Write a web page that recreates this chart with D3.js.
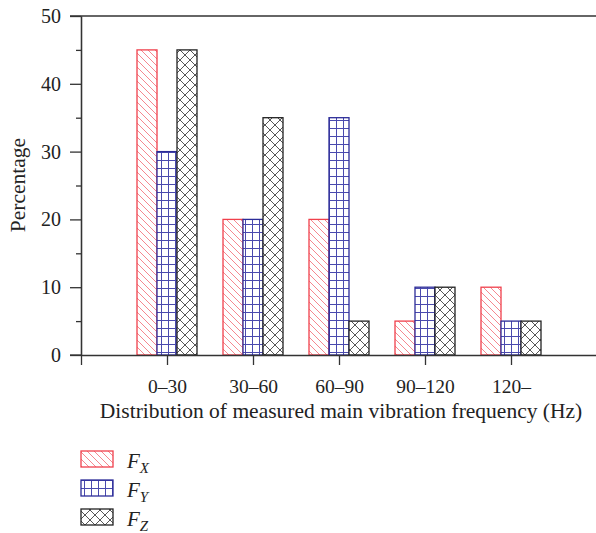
<!DOCTYPE html>
<html>
<head>
    <script type="text/javascript" src="https://d3js.org/d3.v7.min.js"></script>
    <style>
        body { margin: 0; background: #fff; }
        svg { display: block; }
        text { font-family: "Liberation Serif", "DejaVu Serif", serif; fill: #222; }
    </style>
</head>
<body>
    <svg></svg>
    <script>
        // data
        const categories = ["0\u201330", "30\u201360", "60\u201390", "90\u2013120", "120\u2013"];
        const seriesNames = ["X", "Y", "Z"];
        const fx = [45, 20, 20, 5, 10];
        const fy = [30, 20, 35, 10, 5];
        const fz = [45, 35, 5, 10, 5];
        const yTicks = [0, 10, 20, 30, 40, 50];

        const svg = d3.select("svg").attr("width", 596).attr("height", 533);
        const defs = svg.append("defs");

        // hatch patterns
        const pX = defs.append("pattern").attr("id", "hx").attr("patternUnits", "userSpaceOnUse")
            .attr("width", 7).attr("height", 7);
        pX.append("rect").attr("width", 7).attr("height", 7).attr("fill", "#fff");
        pX.append("path").attr("d", "M-1,-1 L8,8 M-1,6 L1,8 M6,-1 L8,1")
            .attr("stroke", "#f26a72").attr("stroke-width", 0.8);

        const pY = defs.append("pattern").attr("id", "hy").attr("patternUnits", "userSpaceOnUse")
            .attr("width", 7).attr("height", 8);
        pY.append("rect").attr("width", 7).attr("height", 8).attr("fill", "#fff");
        pY.append("path").attr("d", "M0.5,0 L0.5,8 M0,0.5 L7,0.5")
            .attr("stroke", "#4a4aae").attr("stroke-width", 1);

        const pZ = defs.append("pattern").attr("id", "hz").attr("patternUnits", "userSpaceOnUse")
            .attr("width", 10).attr("height", 10);
        pZ.append("rect").attr("width", 10).attr("height", 10).attr("fill", "#fff");
        pZ.append("path").attr("d", "M0,0 L10,10 M10,0 L0,10")
            .attr("stroke", "#444").attr("stroke-width", 0.9);

        const styles = [
            { fill: "url(#hx)", stroke: "#f0404c" },
            { fill: "url(#hy)", stroke: "#2c2c98" },
            { fill: "url(#hz)", stroke: "#222" }
        ];

        const x = d3.scaleLinear().domain([0, 6]).range([81, 597]);
        const y = d3.scaleLinear().domain([0, 50]).range([355, 16]);
        const barW = 20 / (x(1) - x(0));
        const offsets = [-1.5, -0.5, 0.5];

        const series = [fx, fy, fz];
        const plot = svg.append("g");

        series.forEach((vals, s) => {
            plot.selectAll(".bar" + s)
                .data(vals)
                .enter()
                .append("rect")
                .attr("x", (d, i) => x(i + 1 + offsets[s] * barW))
                .attr("y", d => y(d))
                .attr("width", x(barW) - x(0))
                .attr("height", d => y(0) - y(d))
                .attr("fill", styles[s].fill)
                .attr("stroke", styles[s].stroke)
                .attr("stroke-width", 1.3);
        });

        // top frame line
        svg.append("line").attr("x1", 70).attr("x2", 596).attr("y1", y(50)).attr("y2", y(50))
            .attr("stroke", "#333").attr("stroke-width", 1.3);

        // y axis
        const yAxis = d3.axisLeft(y).tickValues(yTicks).tickSize(11).tickPadding(9).tickSizeOuter(0);
        const gy = svg.append("g").attr("transform", `translate(${x(0)},0)`).call(yAxis);
        gy.selectAll("text").style("font-size", "20px").attr("font-family", "Liberation Serif").attr("fill", "#222");
        gy.selectAll("line, path").attr("stroke", "#333").attr("stroke-width", 1.3);
        const gyMinor = svg.append("g").attr("transform", `translate(${x(0)},0)`)
            .call(d3.axisLeft(y).tickValues([5, 15, 25, 35, 45]).tickSize(5).tickFormat("").tickSizeOuter(0));
        gyMinor.selectAll("line, path").attr("stroke", "#333").attr("stroke-width", 1.3);

        // x axis
        const xAxis = d3.axisBottom(x).tickValues([0, 1, 2, 3, 4, 5])
            .tickFormat(d => d === 0 ? "" : categories[d - 1])
            .tickSize(10).tickPadding(14).tickSizeOuter(0);
        const gx = svg.append("g").attr("transform", `translate(0,${y(0)})`).call(xAxis);
        gx.selectAll("text").style("font-size", "19.5px").attr("font-family", "Liberation Serif").attr("fill", "#222");
        gx.selectAll("line, path").attr("stroke", "#333").attr("stroke-width", 1.3);
        svg.append("line").attr("x1", 70).attr("x2", x(0)).attr("y1", y(0)).attr("y2", y(0))
            .attr("stroke", "#333").attr("stroke-width", 1.3);

        // axis titles
        svg.append("text").attr("x", 341).attr("y", 418).attr("text-anchor", "middle")
            .style("font-size", "21.5px").text("Distribution of measured main vibration frequency (Hz)");
        svg.append("text").attr("transform", "translate(25,185) rotate(-90)").attr("text-anchor", "middle")
            .style("font-size", "21.5px").text("Percentage");

        // legend
        const legend = svg.append("g");
        const legY = [451, 480, 509];
        seriesNames.forEach((n, s) => {
            legend.append("rect").attr("x", 81).attr("y", legY[s]).attr("width", 32).attr("height", 16)
                .attr("fill", styles[s].fill).attr("stroke", styles[s].stroke).attr("stroke-width", 1.3);
            const t = legend.append("text").attr("x", 127).attr("y", legY[s] + 17)
                .style("font-size", "21px").style("font-style", "italic");
            t.append("tspan").text("F");
            t.append("tspan").attr("dy", 5).style("font-size", "15px").text(n);
        });
    </script>
</body>
</html>
